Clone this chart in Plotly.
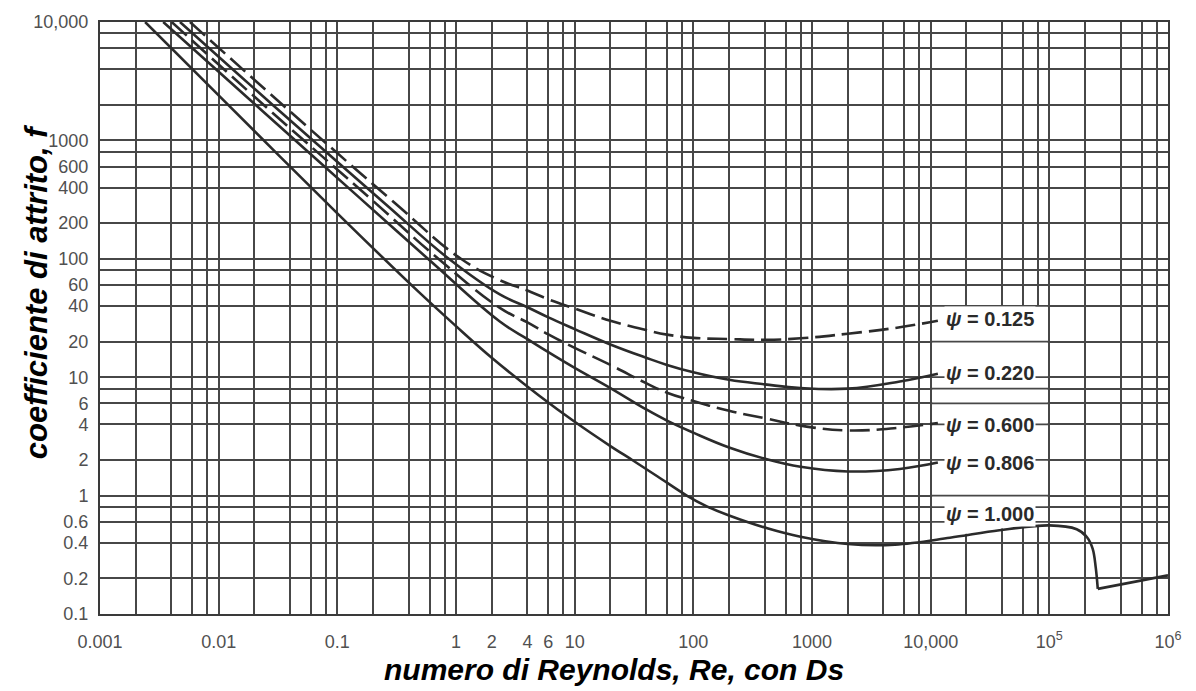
import numpy as np
import plotly.graph_objects as go

# ---------------- data ----------------
re_psi_0125 = [0.00573, 0.0341, 0.3, 1.1, 2.34, 4, 6, 10, 20, 40, 60, 100, 200, 400, 800, 2000, 5500, 11500]
f_psi_0125 = [10000, 2020, 300, 100, 66, 54, 45.5, 38, 30, 25, 22.9, 21.5, 21, 20.7, 21.3, 23.3, 26.4, 30]

re_psi_0220 = [0.00472, 0.0281, 0.25, 0.87, 2.34, 4, 6, 10, 20, 40, 60, 100, 200, 400, 800, 2000, 5500, 11500]
f_psi_0220 = [10000, 2020, 295, 100, 50, 39, 32, 25.5, 18.9, 14.6, 12.7, 11.0, 9.5, 8.7, 8.1, 8.0, 9.2, 10.7]

re_psi_0600 = [0.00402, 0.0236, 0.2, 0.71, 2.34, 4, 6, 10, 20, 40, 60, 100, 200, 400, 800, 2000, 5500, 11500]
f_psi_0600 = [10000, 2020, 308, 100, 38.5, 29, 23, 17.7, 12.7, 8.9, 7.4, 6.3, 5.2, 4.5, 3.9, 3.55, 3.75, 4.1]

re_psi_0806 = [0.00341, 0.0202, 0.15, 0.58, 2.34, 4, 6, 10, 20, 40, 60, 100, 200, 400, 800, 2000, 5500, 11500]
f_psi_0806 = [10000, 2020, 335, 100, 29.5, 21, 16.3, 12.0, 8.1, 5.35, 4.3, 3.4, 2.55, 2.05, 1.75, 1.6, 1.68, 1.9]

re_psi_1000 = [0.0024, 0.01, 0.1, 0.5, 1, 2, 5, 10, 20, 31, 50, 88, 130, 200, 420, 800, 2000, 5000,
               14500, 38000, 100000, 170000, 207000, 232000, 246000, 256000]
f_psi_1000 = [10000, 2400, 242, 51, 27, 14.6, 7.0, 4.2, 2.62, 1.98, 1.45, 1.0, 0.81, 0.68, 0.53, 0.45, 0.39, 0.385,
              0.44, 0.51, 0.56, 0.52, 0.447, 0.355, 0.248, 0.163]
re_psi_1000_tail = [256000, 1000000]
f_psi_1000_tail = [0.163, 0.212]

psi_labels = ["ψ = 0.125", "ψ = 0.220", "ψ = 0.600", "ψ = 0.806", "ψ = 1.000"]
psi_label_f = [31, 10.8, 3.98, 1.9, 0.70]
psi_label_re = 13000

x_grid = [0.001, 0.002, 0.004, 0.006, 0.008,
          0.01, 0.02, 0.04, 0.06, 0.08,
          0.1, 0.2, 0.4, 0.6, 0.8,
          1, 2, 4, 6, 8,
          10, 20, 40, 60, 80,
          100, 200, 400, 600, 800,
          1000, 2000, 4000, 6000, 8000,
          10000, 20000, 40000, 60000, 80000,
          100000, 200000, 400000, 600000, 800000,
          1000000]
x_labels = ["0.001", "", "", "", "",
            "0.01", "", "", "", "",
            "0.1", "", "", "", "",
            "1", "2", "4", "6", "",
            "10", "", "", "", "",
            "100", "", "", "", "",
            "1000", "", "", "", "",
            "10,000", "", "", "", "",
            "10<sup>5</sup>", "", "", "", "",
            "10<sup>6</sup>"]

y_grid = [0.1, 0.2, 0.4, 0.6, 0.8,
          1, 2, 4, 6, 8,
          10, 20, 40, 60, 80,
          100, 200, 400, 600, 800,
          1000, 2000, 4000, 6000, 8000,
          10000]
y_labels = ["0.1", "0.2", "0.4", "0.6", "",
            "1", "2", "4", "6", "",
            "10", "20", "40", "60", "",
            "100", "200", "400", "600", "",
            "1000", "", "", "", "",
            "10,000"]

x_title = "numero di Reynolds, Re, con Ds"
y_title = "coefficiente di attrito, f"

# ---------------- styling ----------------
GRID = "#474747"
GW = 1.8
CURVE = "#2b2b2b"
CW = 2.6
FONT = "Liberation Sans"

fig = go.Figure()

# white label box (vertical grid lines are interrupted behind the labels)
box_x0, box_x1, box_top = 1.03e4, 9.7e4, 40
lx = np.log10(re_psi_1000)
ly = np.log10(f_psi_1000)
inner = [(r, f) for r, f in zip(re_psi_1000, f_psi_1000) if box_x0 < r < box_x1]
yb0 = 10 ** np.interp(np.log10(box_x0), lx, ly)
yb1 = 10 ** np.interp(np.log10(box_x1), lx, ly)
bx = [box_x0, box_x1, box_x1] + [r for r, _ in reversed(inner)] + [box_x0, box_x0]
by = [box_top, box_top, yb1 * 1.03] + [f * 1.03 for _, f in reversed(inner)] + [yb0 * 1.03, box_top]
fig.add_trace(go.Scatter(x=bx, y=by, mode="lines", fill="toself", fillcolor="white",
                         line=dict(width=0, color="white"), hoverinfo="skip", showlegend=False))

# horizontal grid lines that run through the label box
hx, hy = [], []
for v in y_grid:
    if 0.57 < v <= box_top:
        hx += [1e4, 1e5, None]
        hy += [v, v, None]
fig.add_trace(go.Scatter(x=hx, y=hy, mode="lines", line=dict(color=GRID, width=GW),
                         hoverinfo="skip", showlegend=False))

series = [
    (re_psi_0125, f_psi_0125, "20px,7px", 1.2),
    (re_psi_0220, f_psi_0220, "solid", 1.2),
    (re_psi_0600, f_psi_0600, "20px,7px", 1.2),
    (re_psi_0806, f_psi_0806, "solid", 1.2),
    (re_psi_1000, f_psi_1000, "solid", 1.0),
]
for re_vals, f_vals, dash, sm in series:
    fig.add_trace(go.Scatter(x=re_vals, y=f_vals, mode="lines",
                             line=dict(color=CURVE, width=CW, dash=dash, shape="spline", smoothing=sm),
                             hoverinfo="skip", showlegend=False))
fig.add_trace(go.Scatter(x=re_psi_1000_tail, y=f_psi_1000_tail, mode="lines",
                         line=dict(color=CURVE, width=CW), hoverinfo="skip", showlegend=False))

annotations = []
for lab, fv in zip(psi_labels, psi_label_f):
    sym, rest = lab.split(" ", 1)
    annotations.append(dict(
        x=np.log10(psi_label_re), y=np.log10(fv), xref="x", yref="y",
        text="<i>" + sym + "</i>\u00a0" + rest.replace(" ", "\u00a0"),
        showarrow=False, xanchor="left", yanchor="middle",
        font=dict(family=FONT, size=20, color="#2a2a2a", weight="bold"),
        bgcolor="white", borderpad=1))

annotations.append(dict(x=0.481, y=-0.094, xref="paper", yref="paper",
                        text="<b><i>" + x_title + "</i></b>", showarrow=False,
                        xanchor="center", yanchor="middle",
                        font=dict(family=FONT, size=30, color="black")))
annotations.append(dict(x=-0.060, y=0.545, xref="paper", yref="paper",
                        text="<b><i>" + y_title + "</i></b>", showarrow=False, textangle=-90,
                        xanchor="center", yanchor="middle",
                        font=dict(family=FONT, size=31, color="black")))

axis_common = dict(type="log", tickmode="array", showgrid=True, gridcolor=GRID, gridwidth=GW,
                   showline=True, linecolor="#3a3a3a", linewidth=2, mirror=True, ticks="",
                   zeroline=False, tickfont=dict(family=FONT, size=18, color="#505050"))

fig.update_layout(
    width=1196, height=691,
    margin=dict(l=100, r=28, t=16, b=77),
    paper_bgcolor="white", plot_bgcolor="white",
    showlegend=False,
    xaxis=dict(range=[-3, 6], tickvals=x_grid, ticktext=x_labels, ticklabelstandoff=10, **axis_common),
    yaxis=dict(range=[-1, 4], tickvals=y_grid, ticktext=y_labels, ticklabelstandoff=6, **axis_common),
    annotations=annotations,
)

fig.write_html("out.html", config={"displayModeBar": False},
               post_script="document.body.style.margin='0px';document.body.style.overflow='hidden';")
